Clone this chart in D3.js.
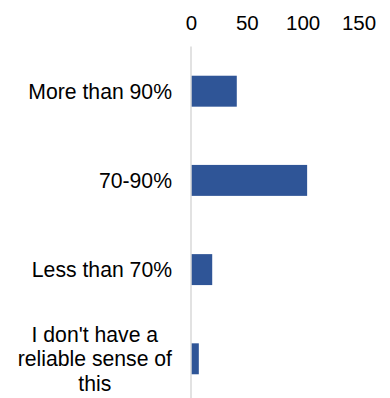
<!DOCTYPE html>
<html>
<head>
<meta charset="utf-8">
<script src="https://cdn.jsdelivr.net/npm/d3@7"></script>
<style>
  html, body { margin: 0; padding: 0; background: #fff; }
  svg { display: block; }
  text { font-family: "Liberation Sans", Arial, sans-serif; fill: #000; }
</style>
</head>
<body>
<svg id="chart" width="390" height="398"></svg>
<script>
// Survey responses by category
const categories = [
  "More than 90%",
  "70-90%",
  "Less than 70%",
  "I don't have a reliable sense of this"
];
const labelLines = [
  ["More than 90%"],
  ["70-90%"],
  ["Less than 70%"],
  ["I don't have a", "reliable sense of", "this"]
];
const values = [41, 104, 19, 7];
const tickValues = [0, 50, 100, 150];

const svg = d3.select("#chart");
const x0 = 191, x1 = 358.5;
const y0 = 46.6, y1 = 403.4;

const x = d3.scaleLinear().domain([0, 150]).range([x0, x1]);
const y = d3.scaleBand().domain(categories).range([y0, y1])
  .paddingInner(0.653).paddingOuter(0.3265);

// Value axis on top
const xAxis = d3.axisTop(x).tickValues(tickValues).tickSize(0).tickPadding(0);
const gx = svg.append("g").attr("transform", "translate(0,29.5)").call(xAxis);
gx.select(".domain").remove();
gx.selectAll("text").attr("font-size", 20.5).attr("font-family", null).attr("fill", "#000");

// Bars
svg.append("g").selectAll("rect")
  .data(values)
  .join("rect")
  .attr("x", x(0))
  .attr("y", (d, i) => y(categories[i]))
  .attr("width", d => x(d) - x(0))
  .attr("height", y.bandwidth())
  .attr("fill", "#2F5597");

// Category axis line
svg.append("line")
  .attr("x1", x(0)).attr("x2", x(0))
  .attr("y1", y0).attr("y2", 398)
  .attr("stroke", "#d9d9d9").attr("stroke-width", 1.5);

// Category labels: each block centred, block right edge near the axis
const labelRight = 172;
const lineH = 24.5;
const gl = svg.append("g");
labelLines.forEach((lines, i) => {
  const cy = y(categories[i]) + y.bandwidth() / 2;
  const t = gl.append("text").attr("font-size", 21.2).attr("text-anchor", "middle");
  const spans = lines.map((ln, k) => t.append("tspan").text(ln));
  const maxW = d3.max(spans, s => s.node().getComputedTextLength());
  const cx = labelRight - maxW / 2;
  const top = cy - (lines.length - 1) * lineH / 2;
  spans.forEach((s, k) => s.attr("x", cx).attr("y", top + k * lineH).attr("dy", "0.35em"));
});
</script>
</body>
</html>
